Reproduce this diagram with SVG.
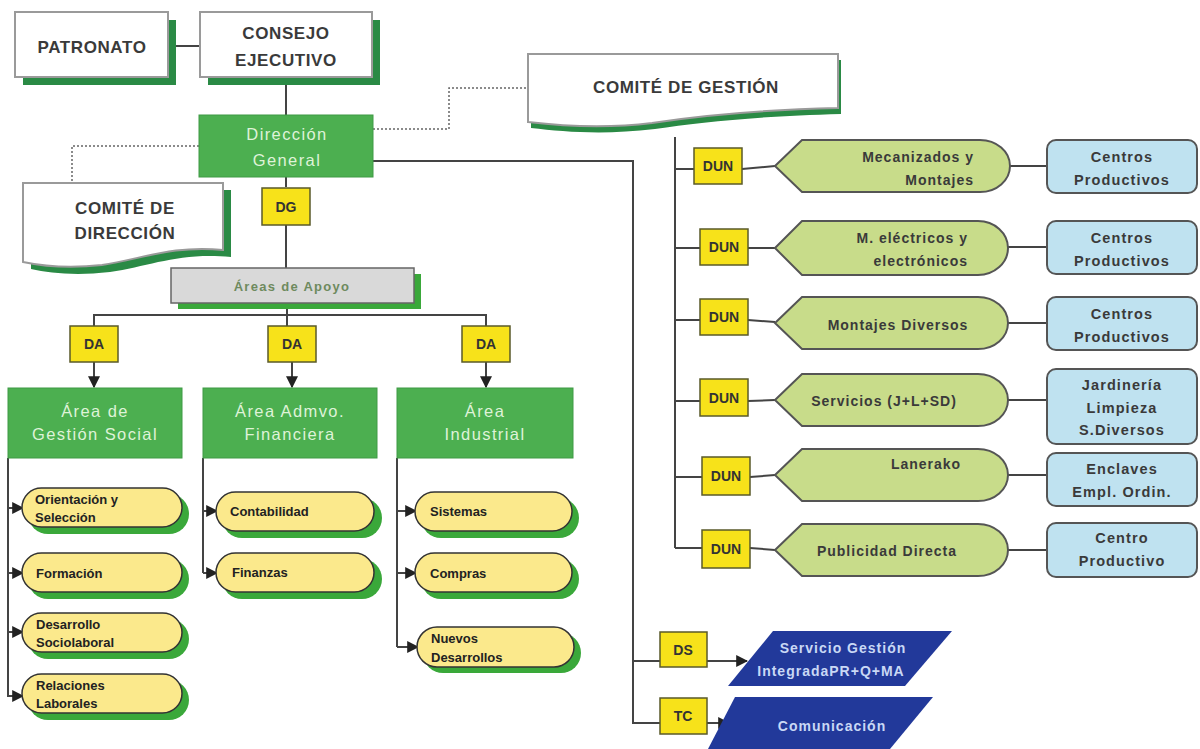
<svg xmlns="http://www.w3.org/2000/svg" width="1200" height="749" viewBox="0 0 1200 749">
<defs>
<style>
text{font-family:"Liberation Sans",Arial,sans-serif;}
.wb{fill:#fff;stroke:#9a9a9a;stroke-width:2;}
.sh{fill:#2a8a45;}
.t1{font-size:17px;font-weight:bold;fill:#3a3a3a;text-anchor:middle;letter-spacing:0.6px;}
.gbox{fill:#4caf50;stroke:#3f9a45;stroke-width:1;}
.gt{font-size:16.5px;fill:#dff3d8;text-anchor:middle;letter-spacing:1.4px;}
.yb{fill:#f7e21a;stroke:#5a5a2a;stroke-width:1.5;}
.yt{font-size:14px;font-weight:bold;fill:#333;text-anchor:middle;}
.ln{fill:none;stroke:#444;stroke-width:2;}
.dot{fill:none;stroke:#666;stroke-width:1.5;stroke-dasharray:2 2;}
.hex{fill:#c8dc8a;stroke:#555;stroke-width:2;}
.ht{font-size:14px;font-weight:bold;fill:#3a3a3a;letter-spacing:1px;}
.bb{fill:#bfe2f0;stroke:#555;stroke-width:2;}
.bt{font-size:14.5px;font-weight:bold;fill:#3a3a3a;text-anchor:middle;letter-spacing:1.1px;}
.pill{fill:#fbe98c;stroke:#333;stroke-width:1.5;}
.psh{fill:#3aa83a;}
.pt{font-size:13px;font-weight:bold;fill:#222;}
.par{fill:#22399a;}
.wt{font-size:14px;font-weight:bold;fill:#c9d8f5;text-anchor:middle;letter-spacing:1px;}
</style>
<marker id="ah" viewBox="0 0 10 10" refX="9" refY="5" markerWidth="6" markerHeight="6" orient="auto" markerUnits="strokeWidth"><path d="M0,0 L10,5 L0,10 Z" fill="#222"/></marker>
</defs>
<rect width="1200" height="749" fill="#fff"/>

<g id="connectors">
<line class="ln" x1="168" y1="46" x2="200" y2="46"/>
<line class="ln" x1="286" y1="84" x2="286" y2="115"/>
<line class="ln" x1="286" y1="177" x2="286" y2="187"/>
<line class="ln" x1="286" y1="225" x2="286" y2="268"/>
<line class="ln" x1="287" y1="303" x2="287" y2="326"/>
<polyline class="ln" points="94,326 94,315 486,315 486,326"/>
<line class="ln" x1="94" y1="362" x2="94" y2="387" marker-end="url(#ah)"/>
<line class="ln" x1="292" y1="362" x2="292" y2="387" marker-end="url(#ah)"/>
<line class="ln" x1="486" y1="362" x2="486" y2="387" marker-end="url(#ah)"/>
<polyline class="dot" points="199,146 72,146 72,183"/>
<polyline class="dot" points="373,129 449,129 449,88 528,88"/>
<polyline class="ln" points="373,161 633,161 633,723 662,723"/>
<line class="ln" x1="633" y1="661" x2="662" y2="661"/>
<line class="ln" x1="706" y1="661" x2="747" y2="661" marker-end="url(#ah)"/>
<line class="ln" x1="706" y1="723" x2="729" y2="723" marker-end="url(#ah)"/>
<polyline class="ln" points="8,458 8,697"/>
<line class="ln" x1="8" y1="508" x2="23" y2="508" marker-end="url(#ah)"/>
<line class="ln" x1="8" y1="573" x2="23" y2="573" marker-end="url(#ah)"/>
<line class="ln" x1="8" y1="632" x2="23" y2="632" marker-end="url(#ah)"/>
<polyline class="ln" points="8,696 23,696" marker-end="url(#ah)"/>
<polyline class="ln" points="203,458 203,573"/>
<line class="ln" x1="203" y1="511" x2="217" y2="511" marker-end="url(#ah)"/>
<line class="ln" x1="203" y1="573" x2="217" y2="573" marker-end="url(#ah)"/>
<polyline class="ln" points="397,458 397,647"/>
<line class="ln" x1="397" y1="511" x2="416" y2="511" marker-end="url(#ah)"/>
<line class="ln" x1="397" y1="573" x2="416" y2="573" marker-end="url(#ah)"/>
<line class="ln" x1="397" y1="647" x2="418" y2="647" marker-end="url(#ah)"/>
<line class="ln" x1="675" y1="137" x2="675" y2="548"/>
<polyline class="ln" points="675,169 694,169"/>
<polyline class="ln" points="742,169 775,166"/>
<line class="ln" x1="675" y1="248" x2="700" y2="248"/>
<line class="ln" x1="748" y1="248" x2="775" y2="248"/>
<line class="ln" x1="675" y1="320" x2="700" y2="320"/>
<line class="ln" x1="748" y1="320" x2="775" y2="322"/>
<line class="ln" x1="675" y1="401" x2="700" y2="401"/>
<line class="ln" x1="748" y1="401" x2="775" y2="400"/>
<line class="ln" x1="675" y1="477" x2="702" y2="477"/>
<line class="ln" x1="750" y1="477" x2="775" y2="475"/>
<line class="ln" x1="675" y1="548" x2="702" y2="548"/>
<line class="ln" x1="750" y1="548" x2="775" y2="550"/>
<line class="ln" x1="1010" y1="166" x2="1047" y2="166"/>
<line class="ln" x1="1008" y1="247" x2="1047" y2="247"/>
<line class="ln" x1="1008" y1="323" x2="1047" y2="323"/>
<line class="ln" x1="1008" y1="400" x2="1047" y2="400"/>
<line class="ln" x1="1008" y1="475" x2="1047" y2="475"/>
<line class="ln" x1="1008" y1="550" x2="1047" y2="550"/>
</g>

<g id="patronato">
<rect class="sh" x="23" y="20" width="153" height="65"/>
<rect class="wb" x="15" y="12" width="153" height="65"/>
<text class="t1" x="92" y="53">PATRONATO</text>
</g>
<g id="consejo">
<rect class="sh" x="208" y="20" width="172" height="65"/>
<rect class="wb" x="200" y="12" width="172" height="65"/>
<text class="t1" x="286" y="39">CONSEJO</text>
<text class="t1" x="286" y="66">EJECUTIVO</text>
</g>
<g id="direccion-general">
<rect class="gbox" x="199" y="115" width="174" height="62"/>
<text class="gt" x="287" y="140">Dirección</text>
<text class="gt" x="287" y="166">General</text>
</g>
<g id="dg">
<rect class="yb" x="262" y="188" width="48" height="37"/>
<text class="yt" x="286" y="212">DG</text>
</g>
<g id="comite-direccion">
<path class="sh" d="M31,190 H231 V257 C180,252 150,266 110,272 C75,276 50,273 31,269 Z"/>
<path class="wb" d="M23,183 H223 V250 C172,245 142,259 102,265 C67,269 42,266 23,262 Z"/>
<text class="t1" x="125" y="214">COMITÉ DE</text>
<text class="t1" x="125" y="239">DIRECCIÓN</text>
</g>
<g id="comite-gestion">
<path class="sh" d="M531,60 H841 V114 C760,116 700,122 655,129 C605,135 565,132 531,128 Z"/>
<path class="wb" d="M528,54 H838 V108 C757,110 697,116 652,123 C602,129 562,126 528,122 Z"/>
<text class="t1" x="686" y="93" letter-spacing="1">COMITÉ DE GESTIÓN</text>
</g>
<g id="areas-apoyo">
<rect x="178" y="274" width="243" height="35" fill="#3aa83a"/>
<rect x="171" y="268" width="243" height="35" fill="#d9d9d9" stroke="#666" stroke-width="1.5"/>
<text x="292" y="291" font-size="13" font-weight="bold" fill="#6e8a5e" text-anchor="middle" letter-spacing="1.3">Áreas de Apoyo</text>
</g>
<g id="da1"><rect class="yb" x="70" y="326" width="48" height="36"/><text class="yt" x="94" y="349">DA</text></g>
<g id="da2"><rect class="yb" x="268" y="326" width="48" height="36"/><text class="yt" x="292" y="349">DA</text></g>
<g id="da3"><rect class="yb" x="462" y="326" width="48" height="36"/><text class="yt" x="486" y="349">DA</text></g>

<g id="area-social">
<rect class="gbox" x="8" y="388" width="174" height="70"/>
<text class="gt" x="95" y="417">Área de</text>
<text class="gt" x="95" y="440">Gestión Social</text>
</g>
<g id="area-admvo">
<rect class="gbox" x="203" y="388" width="174" height="70"/>
<text class="gt" x="290" y="417">Área  Admvo.</text>
<text class="gt" x="290" y="440">Financiera</text>
</g>
<g id="area-industrial">
<rect class="gbox" x="397" y="388" width="176" height="70"/>
<text class="gt" x="485" y="417">Área</text>
<text class="gt" x="485" y="440">Industrial</text>
</g>

<g id="p-orientacion"><rect class="psh" x="28" y="494" width="161" height="40" rx="20"/><rect class="pill" x="22" y="488" width="160" height="39" rx="19.5"/><text class="pt" x="35" y="504">Orientación y</text><text class="pt" x="35" y="522">Selección</text></g>
<g id="p-formacion"><rect class="psh" x="28" y="559" width="161" height="40" rx="20"/><rect class="pill" x="22" y="553" width="160" height="39" rx="19.5"/><text class="pt" x="36" y="578">Formación</text></g>
<g id="p-desarrollo"><rect class="psh" x="28" y="619" width="161" height="40" rx="20"/><rect class="pill" x="22" y="613" width="160" height="39" rx="19.5"/><text class="pt" x="36" y="629">Desarrollo</text><text class="pt" x="36" y="647">Sociolaboral</text></g>
<g id="p-relaciones"><rect class="psh" x="28" y="680" width="161" height="40" rx="20"/><rect class="pill" x="22" y="674" width="160" height="39" rx="19.5"/><text class="pt" x="36" y="690">Relaciones</text><text class="pt" x="36" y="708">Laborales</text></g>

<g id="p-contabilidad"><rect class="psh" x="222" y="498" width="160" height="40" rx="20"/><rect class="pill" x="216" y="492" width="158" height="39" rx="19.5"/><text class="pt" x="230" y="516">Contabilidad</text></g>
<g id="p-finanzas"><rect class="psh" x="222" y="559" width="160" height="40" rx="20"/><rect class="pill" x="216" y="553" width="158" height="39" rx="19.5"/><text class="pt" x="232" y="577">Finanzas</text></g>

<g id="p-sistemas"><rect class="psh" x="421" y="498" width="158" height="40" rx="20"/><rect class="pill" x="415" y="492" width="157" height="39" rx="19.5"/><text class="pt" x="430" y="516">Sistemas</text></g>
<g id="p-compras"><rect class="psh" x="421" y="559" width="158" height="40" rx="20"/><rect class="pill" x="415" y="553" width="157" height="39" rx="19.5"/><text class="pt" x="430" y="578">Compras</text></g>
<g id="p-nuevos"><rect class="psh" x="423" y="633" width="158" height="40" rx="20"/><rect class="pill" x="417" y="627" width="157" height="40" rx="20"/><text class="pt" x="431" y="643">Nuevos</text><text class="pt" x="431" y="662">Desarrollos</text></g>

<g id="dun1"><rect class="yb" x="694" y="148" width="48" height="36"/><text class="yt" x="718" y="171">DUN</text></g>
<g id="dun2"><rect class="yb" x="700" y="229" width="48" height="36"/><text class="yt" x="724" y="252">DUN</text></g>
<g id="dun3"><rect class="yb" x="700" y="299" width="48" height="36"/><text class="yt" x="724" y="322">DUN</text></g>
<g id="dun4"><rect class="yb" x="700" y="379" width="48" height="37"/><text class="yt" x="724" y="403">DUN</text></g>
<g id="dun5"><rect class="yb" x="702" y="457" width="48" height="38"/><text class="yt" x="726" y="481">DUN</text></g>
<g id="dun6"><rect class="yb" x="702" y="530" width="48" height="38"/><text class="yt" x="726" y="554">DUN</text></g>

<g id="h-mecanizados"><path class="hex" d="M775,166 L802,140 H980 A30,26 0 0 1 980,192 H802 Z"/><text class="ht" x="974" y="162" text-anchor="end">Mecanizados y</text><text class="ht" x="974" y="185" text-anchor="end">Montajes</text></g>
<g id="h-electricos"><path class="hex" d="M775,248 L802,221 H978 A30,27 0 0 1 978,275 H802 Z"/><text class="ht" x="968" y="243" text-anchor="end">M. eléctricos y</text><text class="ht" x="968" y="266" text-anchor="end">electrónicos</text></g>
<g id="h-montajes"><path class="hex" d="M775,323 L802,297 H978 A30,26 0 0 1 978,349 H802 Z"/><text class="ht" x="898" y="330" text-anchor="middle">Montajes Diversos</text></g>
<g id="h-servicios"><path class="hex" d="M775,400 L802,374 H978 A30,26 0 0 1 978,426 H802 Z"/><text class="ht" x="884" y="406" text-anchor="middle">Servicios (J+L+SD)</text></g>
<g id="h-lanerako"><path class="hex" d="M775,475 L802,449 H978 A30,26 0 0 1 978,501 H802 Z"/><text class="ht" x="926" y="469" text-anchor="middle">Lanerako</text></g>
<g id="h-publicidad"><path class="hex" d="M775,550 L802,524 H978 A30,26 0 0 1 978,576 H802 Z"/><text class="ht" x="887" y="556" text-anchor="middle">Publicidad Directa</text></g>

<g id="b1"><rect class="bb" x="1047" y="140" width="150" height="53" rx="9"/><text class="bt" x="1122" y="162">Centros</text><text class="bt" x="1122" y="185">Productivos</text></g>
<g id="b2"><rect class="bb" x="1047" y="221" width="150" height="53" rx="9"/><text class="bt" x="1122" y="243">Centros</text><text class="bt" x="1122" y="266">Productivos</text></g>
<g id="b3"><rect class="bb" x="1047" y="297" width="150" height="53" rx="9"/><text class="bt" x="1122" y="319">Centros</text><text class="bt" x="1122" y="342">Productivos</text></g>
<g id="b4"><rect class="bb" x="1047" y="369" width="150" height="75" rx="9"/><text class="bt" x="1122" y="390">Jardinería</text><text class="bt" x="1122" y="413">Limpieza</text><text class="bt" x="1122" y="435">S.Diversos</text></g>
<g id="b5"><rect class="bb" x="1047" y="453" width="150" height="53" rx="9"/><text class="bt" x="1122" y="474">Enclaves</text><text class="bt" x="1122" y="497">Empl. Ordin.</text></g>
<g id="b6"><rect class="bb" x="1047" y="523" width="150" height="54" rx="9"/><text class="bt" x="1122" y="543">Centro</text><text class="bt" x="1122" y="566">Productivo</text></g>

<g id="ds"><rect class="yb" x="660" y="632" width="47" height="35"/><text class="yt" x="683" y="655">DS</text></g>
<g id="tc"><rect class="yb" x="660" y="698" width="47" height="36"/><text class="yt" x="683" y="721">TC</text></g>
<g id="servicio-gestion"><polygon class="par" points="773,631 952,631 905,686 728,686"/><text class="wt" x="843" y="653">Servicio Gestión</text><text class="wt" x="831" y="676">IntegradaPR+Q+MA</text></g>
<g id="comunicacion"><polygon class="par" points="735,697 933,697 890,749 708,749"/><text class="wt" x="832" y="731">Comunicación</text></g>
</svg>
